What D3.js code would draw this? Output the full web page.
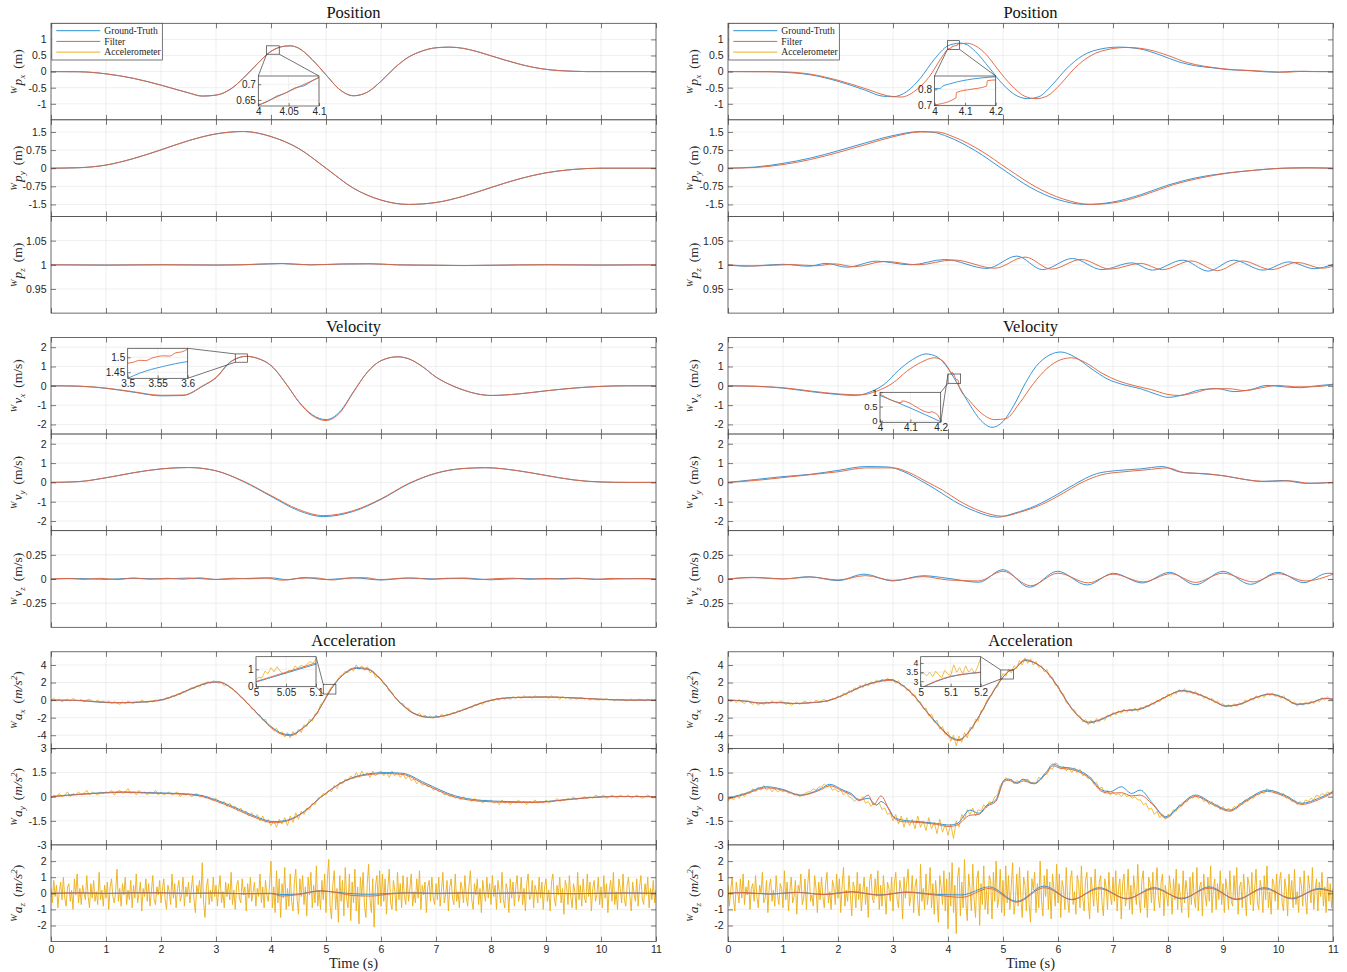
<!DOCTYPE html>
<html>
<head>
<meta charset="utf-8">
<script src="https://cdn.jsdelivr.net/npm/d3@7"></script>
<style>
  body { margin: 0; background: #fff; }
  svg { display: block; }
</style>
</head>
<body>
<svg id="chart" width="1347" height="972"></svg>
<script>
// ---------------------------------------------------------------------------
// Trajectory data: [time (s), value] knots for ground truth and filter output.
// Accelerometer samples are evenly spaced over 0..11 s, stored in 0.1 m/s^2.
// ---------------------------------------------------------------------------
const timeTicks = [0,1,2,3,4,5,6,7,8,9,10,11];
const groupTitles = ['Position', 'Velocity', 'Acceleration'];
const legendLabels = ['Ground-Truth', 'Filter', 'Accelerometer'];

// ----- left run -----
const gtPxL = [[0,0],[0.5,-0.005],[1,-0.07],[1.5,-0.21],[2,-0.42],[2.5,-0.66],[2.75,-0.76],[3,-0.73],[3.25,-0.56],[3.5,-0.2],[3.75,0.24],[4,0.63],[4.25,0.79],[4.35,0.8],[4.5,0.73],[4.75,0.37],[5,-0.1],[5.25,-0.56],[5.5,-0.75],[5.75,-0.64],[6,-0.3],[6.25,0.12],[6.5,0.45],[6.75,0.64],[7,0.74],[7.25,0.76],[7.5,0.72],[7.75,0.62],[8,0.49],[8.25,0.36],[8.5,0.24],[8.75,0.14],[9,0.07],[9.25,0.03],[9.5,0.01],[9.75,0],[11,0]];
const fiPxL = [[0,0],[0.5,-0.005],[1,-0.07],[1.5,-0.21],[2,-0.42],[2.5,-0.66],[2.75,-0.76],[3,-0.73],[3.25,-0.56],[3.5,-0.2],[3.75,0.24],[4,0.63],[4.25,0.79],[4.35,0.8],[4.5,0.73],[4.75,0.37],[5,-0.1],[5.25,-0.56],[5.5,-0.75],[5.75,-0.64],[6,-0.3],[6.25,0.12],[6.5,0.45],[6.75,0.64],[7,0.74],[7.25,0.76],[7.5,0.72],[7.75,0.62],[8,0.49],[8.25,0.36],[8.5,0.24],[8.75,0.14],[9,0.07],[9.25,0.03],[9.5,0.01],[9.75,0],[11,0]];
const gtPyL = [[0,0],[0.5,0.02],[1,0.13],[1.5,0.4],[2,0.76],[2.5,1.14],[3,1.42],[3.5,1.52],[4,1.31],[4.5,0.82],[5,0],[5.5,-0.83],[6,-1.32],[6.5,-1.5],[7,-1.42],[7.5,-1.16],[8,-0.8],[8.5,-0.45],[9,-0.19],[9.5,-0.05],[10,0],[11,0]];
const fiPyL = [[0,0],[0.5,0.02],[1,0.13],[1.5,0.4],[2,0.76],[2.5,1.14],[3,1.42],[3.5,1.52],[4,1.31],[4.5,0.82],[5,0],[5.5,-0.83],[6,-1.32],[6.5,-1.5],[7,-1.42],[7.5,-1.16],[8,-0.8],[8.5,-0.45],[9,-0.19],[9.5,-0.05],[10,0],[11,0]];
const gtPzL = [[0,1],[1,0.9995],[2,1],[3,0.9995],[3.5,1],[4.2,1.0025],[4.7,1],[5.3,1.0015],[5.8,1.002],[6.3,1],[7,0.999],[7.5,0.9985],[8,0.999],[9,1],[10,0.9995],[11,1]];
const fiPzL = [[0,1],[1,0.9993],[2,1.0002],[3,0.9994],[3.5,1.0003],[4.2,1.0028],[4.7,0.9998],[5.3,1.0018],[5.8,1.0022],[6.3,0.9998],[7,0.9992],[7.5,0.9984],[8,0.9991],[9,1.0002],[10,0.9994],[11,1]];
const gtVxL = [[0,0],[0.5,-0.02],[1,-0.13],[1.5,-0.33],[2,-0.52],[2.4,-0.5],[2.77,0],[3,0.41],[3.25,1.2],[3.55,1.52],[3.75,1.42],[4,1.05],[4.3,0],[4.5,-0.8],[4.75,-1.5],[5,-1.75],[5.25,-1.35],[5.5,-0.3],[5.75,0.7],[6,1.3],[6.3,1.5],[6.5,1.4],[6.75,1],[7,0.45],[7.3,0],[7.5,-0.22],[7.75,-0.42],[8,-0.5],[8.5,-0.42],[9,-0.26],[9.5,-0.12],[10,-0.03],[10.5,0],[11,0]];
const fiVxL = [[0,0],[0.5,-0.02],[1,-0.12],[1.5,-0.31],[2,-0.49],[2.4,-0.48],[2.77,0.02],[3,0.43],[3.25,1.22],[3.55,1.53],[3.75,1.43],[4,1.05],[4.3,0],[4.5,-0.82],[4.75,-1.54],[5,-1.8],[5.25,-1.4],[5.5,-0.33],[5.75,0.7],[6,1.3],[6.3,1.5],[6.5,1.4],[6.75,1],[7,0.45],[7.3,0],[7.5,-0.22],[7.75,-0.42],[8,-0.5],[8.5,-0.42],[9,-0.26],[9.5,-0.12],[10,-0.03],[10.5,0],[11,0]];
const gtVyL = [[0,0],[0.5,0.04],[1,0.24],[1.5,0.5],[2,0.7],[2.5,0.77],[3,0.6],[3.5,0.04],[4,-0.72],[4.5,-1.46],[4.95,-1.77],[5.5,-1.5],[6,-0.88],[6.5,-0.08],[7,0.47],[7.5,0.72],[7.9,0.76],[8.5,0.6],[9,0.36],[9.5,0.13],[10,0.02],[10.5,0],[11,0]];
const fiVyL = [[0,0],[0.5,0.04],[1,0.24],[1.5,0.5],[2,0.7],[2.5,0.77],[3,0.6],[3.5,0.06],[4,-0.68],[4.5,-1.4],[4.95,-1.72],[5.5,-1.46],[6,-0.85],[6.5,-0.06],[7,0.48],[7.5,0.72],[7.9,0.76],[8.5,0.6],[9,0.36],[9.5,0.13],[10,0.02],[10.5,0],[11,0]];
const gtVzL = [[0,0],[0.5,0.005],[1,-0.004],[1.5,0.008],[2,0],[2.5,0.01],[3,-0.005],[3.5,0.005],[4,0.012],[4.3,-0.008],[4.6,0.015],[5,-0.006],[5.5,0.012],[6,-0.01],[6.5,0.01],[7,0],[7.5,0.01],[8,-0.008],[8.5,0.005],[9,0],[9.5,0.008],[10,-0.004],[10.5,0.004],[11,0]];
const fiVzL = [[0,0],[0.3,0.006],[0.6,-0.004],[0.9,0.007],[1.2,-0.006],[1.5,0.01],[1.8,-0.003],[2.1,0.008],[2.4,-0.002],[2.7,0.012],[3,-0.006],[3.3,0.008],[3.6,0.002],[3.9,0.01],[4.2,-0.012],[4.5,0.006],[4.8,0.012],[5.1,-0.01],[5.4,0.008],[5.7,0.014],[6,-0.008],[6.3,0.006],[6.6,0.01],[6.9,-0.004],[7.2,0.008],[7.5,0.006],[7.8,-0.006],[8.1,0.004],[8.4,0.008],[8.7,-0.004],[9,0.006],[9.3,-0.002],[9.6,0.008],[9.9,-0.004],[10.2,0.006],[10.5,0.002],[10.8,0.005],[11,0]];
const gtAxL = [[0,0],[0.5,-0.05],[0.8,-0.2],[1.2,-0.32],[1.6,-0.25],[2,0],[2.3,0.6],[2.6,1.4],[2.9,2],[3.05,2.05],[3.25,1.5],[3.5,0.1],[3.75,-1.5],[4,-3],[4.2,-3.8],[4.35,-3.95],[4.55,-3.3],[4.8,-1.8],[5,0.27],[5.1,1.3],[5.3,2.8],[5.55,3.6],[5.75,3.5],[6,2.3],[6.3,0],[6.6,-1.5],[6.9,-1.95],[7.2,-1.7],[7.5,-1.1],[7.8,-0.4],[8.1,0.1],[8.5,0.3],[9,0.35],[9.5,0.25],[10,0.1],[10.5,0],[11,0]];
const fiAxL = [[0,0],[0.5,-0.03],[0.8,-0.17],[1.2,-0.28],[1.6,-0.22],[2,0.03],[2.3,0.65],[2.6,1.45],[2.9,2.05],[3.05,2.08],[3.25,1.52],[3.5,0.1],[3.75,-1.55],[4,-3.1],[4.2,-3.9],[4.35,-4.05],[4.55,-3.35],[4.8,-1.8],[5,0.3],[5.1,1.37],[5.3,2.85],[5.55,3.7],[5.75,3.6],[6,2.35],[6.3,0],[6.6,-1.55],[6.9,-2],[7.2,-1.72],[7.5,-1.1],[7.8,-0.38],[8.1,0.12],[8.5,0.32],[9,0.36],[9.5,0.26],[10,0.1],[10.5,0],[11,0]];
const gtAyL = [[0,0],[0.3,0.1],[0.8,0.22],[1.3,0.3],[1.8,0.25],[2.3,0.2],[2.7,0.1],[3,-0.2],[3.3,-0.6],[3.7,-1.2],[4.05,-1.55],[4.3,-1.45],[4.6,-0.92],[4.9,-0.05],[5.35,1],[5.7,1.38],[6.1,1.5],[6.4,1.45],[6.8,0.85],[7.35,0.05],[7.8,-0.22],[8.3,-0.3],[8.8,-0.33],[9.3,-0.2],[9.8,-0.05],[10.3,0.02],[11,0]];
const fiAyL = [[0,0],[0.3,0.08],[0.8,0.2],[1.3,0.27],[1.8,0.22],[2.3,0.17],[2.7,0.05],[3,-0.27],[3.3,-0.68],[3.7,-1.28],[4.05,-1.62],[4.3,-1.5],[4.6,-0.95],[4.9,-0.05],[5.35,0.98],[5.7,1.33],[6.1,1.44],[6.4,1.38],[6.8,0.76],[7.35,-0.03],[7.8,-0.28],[8.3,-0.35],[8.8,-0.36],[9.3,-0.22],[9.8,-0.06],[10.3,0.01],[11,0]];
const gtAzL = [[0,0],[0.5,0.02],[1,0],[1.5,0.03],[2,0.02],[2.5,0],[3,0.02],[3.5,-0.02],[4,0],[4.2,-0.08],[4.5,-0.04],[4.9,0.14],[5.2,0.06],[5.5,-0.03],[5.8,-0.06],[6.2,0],[6.5,0.03],[7,0],[7.5,0.02],[8,0],[8.5,0.02],[9,0],[9.5,-0.02],[10,0],[10.5,0.02],[11,0]];
const fiAzL = [[0,0],[0.5,0.03],[1,-0.01],[1.5,0.02],[2,0.03],[2.5,-0.01],[3,0.02],[3.5,-0.03],[4,-0.02],[4.2,-0.17],[4.5,-0.08],[4.9,0.16],[5.2,0.04],[5.5,-0.14],[5.8,-0.17],[6.2,-0.03],[6.5,0.02],[7,-0.01],[7.5,0.02],[8,-0.01],[8.5,0.02],[9,-0.01],[9.5,-0.02],[10,0],[10.5,0.01],[11,0]];

const accAxL = [0,2,-1,1,-2,0,1,-1,2,0,-1,1,-2,0,1,-1,-2,0,-3,-1,
  -3,-1,-4,-2,-3,-5,-2,-4,-1,-3,-4,-2,-3,0,-2,-3,-1,-2,0,-1,
  1,0,3,2,5,4,7,6,10,9,12,14,13,16,15,18,17,21,19,22,
  21,19,20,16,18,14,13,9,7,3,2,-3,-5,-10,-11,-16,-17,-23,-22,-29,
  -31,-35,-32,-38,-36,-42,-37,-43,-36,-40,-33,-37,-28,-30,-22,-24,-16,-15,-5,-3,
  4,10,15,18,22,27,29,33,31,36,33,40,35,39,34,38,31,33,26,27,
  24,18,17,10,9,3,1,-4,-4,-9,-9,-14,-15,-17,-15,-19,-17,-20,-18,-21,
  -17,-20,-16,-19,-16,-17,-14,-15,-12,-13,-10,-11,-8,-9,-5,-6,-3,-5,-1,-2,
  0,-1,2,0,3,1,3,1,4,2,4,2,5,3,4,2,5,3,4,3,
  4,2,5,3,4,1,4,2,3,1,3,1,2,3,1,2,0,2,1,0,
  1,0,2,0,1,-1,1,0,1,-1,0,1,-1,0,1,0,-1,1,0,0,1];
const accAyL = [-1,1,0,2,0,1,3,0,2,1,3,1,2,4,1,3,2,1,3,2,
  3,2,4,1,3,4,2,3,5,2,3,1,4,2,3,1,3,2,4,1,
  3,1,2,3,1,2,3,0,2,1,2,0,1,2,0,1,-1,0,-2,-2,
  -1,-3,-4,-3,-6,-4,-7,-6,-9,-7,-10,-9,-12,-10,-13,-11,-15,-12,-16,-14,
  -18,-15,-19,-14,-17,-13,-18,-12,-16,-10,-14,-9,-11,-7,-8,-4,-5,-1,0,2,
  1,4,3,7,5,9,8,11,10,13,11,15,12,16,13,15,12,16,13,15,
  16,13,15,12,16,13,15,12,14,11,13,10,11,8,10,7,8,6,7,4,
  5,3,4,1,2,0,1,-1,0,-2,0,-2,-1,-3,-1,-3,-2,-4,-2,-3,
  -2,-4,-3,-5,-2,-4,-3,-5,-3,-4,-2,-4,-3,-5,-3,-4,-2,-4,-3,-4,
  -2,-4,-3,-3,-1,-3,-2,-2,-1,-2,0,-2,-1,-1,0,-1,0,-1,1,0,
  0,1,-1,0,1,0,-1,1,0,0,1,-1,0,1,0,-1,0,1,0,-1,0];
const accAzL = [3,-6,8,-2,5,-9,1,7,-4,10,-3,-8,4,6,-5,2,-10,9,-1,12,-6,3,-7,5,0,-4,11,-2,-9,6,-3,8,-5,1,-7,13,-4,2,-8,5,
  -3,7,-10,4,9,-2,-6,1,15,-5,3,-8,6,-1,10,-7,2,-4,8,-9,5,-3,12,-6,0,7,-11,3,-2,9,-5,6,-8,1,11,-4,-7,4,-1,8,
  -6,2,9,-4,-10,5,1,-7,12,-3,6,-9,3,8,-5,-1,10,-8,4,-2,7,-6,2,11,-4,-12,5,0,8,-3,19,-6,-15,4,9,-7,2,-5,10,-2,
  5,-8,3,11,-6,1,-9,7,-2,6,-4,13,-7,2,-10,5,8,-3,-6,9,-1,4,-11,6,-3,10,-5,1,7,-8,3,-2,12,-6,4,-9,8,-1,-5,6,
  20,-9,4,-12,14,-6,9,-15,6,-3,16,-10,3,-8,12,-5,-11,7,15,-4,-13,9,-2,11,-7,4,-14,10,-1,13,-9,5,-6,17,-8,2,-10,8,-4,12,
  -12,9,21,-8,-16,6,14,-10,3,-18,11,-5,8,-14,16,-3,-9,12,-17,7,-6,15,-11,4,-19,10,-2,13,-8,-15,6,18,-4,-12,9,-21,5,11,-7,14,
  -8,12,-5,9,-13,4,15,-6,-10,8,2,-11,13,-4,6,-9,11,-2,-7,10,-5,3,12,-8,1,-6,9,-3,14,-10,5,-1,7,-12,4,8,-5,10,-3,-7,
  6,-4,10,-8,2,13,-6,-1,8,-11,4,9,-3,-7,12,-5,1,-9,7,3,-6,11,-2,-8,5,14,-4,-10,6,-1,9,-7,3,-12,8,0,-5,10,-3,6,
  -7,11,-2,5,-10,8,1,-6,13,-4,-9,6,2,-12,9,-3,7,-8,4,11,-5,-1,10,-7,3,-11,6,12,-4,-2,8,-9,5,1,-6,10,-3,7,-10,4,
  9,-5,2,-11,7,12,-3,-8,5,-1,10,-6,3,-13,8,4,-7,11,-2,-9,6,1,-10,13,-4,5,-8,9,-3,-6,12,-2,7,-11,3,8,-5,-1,10,-7,
  4,-9,11,-3,6,-12,2,8,-5,13,-7,1,-10,9,3,-6,12,-4,-8,5,10,-2,-11,7,0,-5,9,-8,4,11,-3,-7,6,-1,10,-9,3,-4,8,-6,2];

// zoomed windows, left run
const zoomPxGtL = [[4,0.634],[4.015,0.645],[4.03,0.662],[4.045,0.672],[4.06,0.688],[4.075,0.695],[4.09,0.712],[4.1,0.722]];
const zoomPxFiL = [[4,0.633],[4.05,0.677],[4.1,0.721]];
const zoomVxGtL = [[3.5,1.43],[3.52,1.447],[3.54,1.46],[3.56,1.47],[3.58,1.479],[3.6,1.486]];
const zoomVxFiL = [[3.5,1.48],[3.51,1.484],[3.52,1.49],[3.53,1.489],[3.54,1.497],[3.56,1.505],[3.57,1.504],[3.58,1.515],[3.59,1.518],[3.6,1.527]];
const zoomAxGtL = [[5,0.27],[5.1,1.3]];
const zoomAxFiL = [[5,0.3],[5.1,1.37]];
const zoomAxAccL = [[5,0.4],[5.005,0.55],[5.01,0.5],[5.015,0.9],[5.02,0.75],[5.025,1.1],[5.03,0.85],[5.035,1.15],[5.04,0.9],[5.045,0.75],[5.05,0.8],[5.055,0.95],[5.06,0.85],[5.065,1.2],[5.07,1.05],[5.075,1.25],[5.08,1.15],[5.085,1.3],[5.09,1.45],[5.095,1.35],[5.1,1.6]];

// ----- right run -----
const gtPxR = [[0,0],[0.75,0],[1,-0.02],[1.5,-0.1],[2,-0.3],[2.5,-0.58],[2.8,-0.76],[3,-0.78],[3.25,-0.62],[3.5,-0.2],[3.75,0.38],[4,0.805],[4.1,0.858],[4.22,0.885],[4.35,0.83],[4.5,0.62],[4.75,0.12],[5,-0.4],[5.25,-0.75],[5.45,-0.84],[5.65,-0.78],[5.9,-0.4],[6.15,0.08],[6.45,0.5],[6.8,0.71],[7.1,0.76],[7.5,0.7],[7.85,0.52],[8.2,0.3],[8.5,0.18],[8.8,0.12],[9.1,0.06],[9.4,0.04],[9.7,0],[10,-0.02],[10.3,0.01],[10.6,0],[11,0]];
const fiPxR = [[0,0],[1,-0.01],[1.5,-0.08],[2,-0.27],[2.5,-0.53],[2.9,-0.75],[3.15,-0.79],[3.4,-0.6],[3.65,-0.18],[3.9,0.48],[4,0.7],[4.07,0.745],[4.072,0.78],[4.17,0.82],[4.173,0.855],[4.35,0.88],[4.5,0.8],[4.7,0.52],[4.9,0.08],[5.15,-0.42],[5.4,-0.77],[5.6,-0.84],[5.8,-0.76],[6.05,-0.38],[6.3,0.1],[6.6,0.5],[6.95,0.7],[7.25,0.75],[7.65,0.68],[8,0.5],[8.35,0.28],[8.65,0.17],[8.95,0.1],[9.25,0.05],[9.55,0.03],[9.85,0],[10.15,-0.02],[10.45,0.01],[10.75,0],[11,0]];
const gtPyR = [[0,0],[0.5,0.05],[1,0.2],[1.5,0.42],[2,0.72],[2.5,1.05],[3,1.35],[3.5,1.52],[3.75,1.48],[4,1.3],[4.5,0.72],[5,-0.05],[5.5,-0.8],[6,-1.3],[6.5,-1.5],[7,-1.4],[7.5,-1.1],[8,-0.7],[8.5,-0.4],[9,-0.22],[9.5,-0.1],[10,-0.01],[10.5,0.02],[11,0]];
const fiPyR = [[0,0],[0.5,0.03],[1,0.15],[1.5,0.36],[2,0.65],[2.5,0.98],[3,1.3],[3.5,1.5],[3.8,1.5],[4.1,1.3],[4.6,0.72],[5.1,-0.05],[5.6,-0.78],[6.1,-1.28],[6.6,-1.5],[7.1,-1.4],[7.6,-1.08],[8.1,-0.68],[8.6,-0.4],[9.1,-0.2],[9.6,-0.08],[10.1,0],[10.6,0.01],[11,0]];
const gtPzR = [[0,1],[0.31,0.997],[1,1.001],[1.47,0.997],[1.78,1.003],[2.16,0.995],[2.7,1.0075],[3.32,1],[3.94,1.011],[4.71,0.9925],[5.25,1.018],[5.72,0.99],[6.26,1.013],[6.8,0.99],[7.34,1.004],[7.72,0.989],[8.27,1.0096],[8.73,0.987],[9.19,1.0096],[9.73,0.989],[10.2,1.006],[10.66,0.992],[11,1.001]];
const fiPzR = [[0,1],[0.45,0.9975],[1.15,1.0005],[1.6,0.998],[1.93,1.002],[2.3,0.996],[2.85,1.007],[3.45,1],[4.1,1.01],[4.85,0.993],[5.4,1.016],[5.88,0.991],[6.42,1.011],[6.95,0.991],[7.5,1.003],[7.9,0.99],[8.42,1.008],[8.9,0.988],[9.35,1.008],[9.88,0.99],[10.35,1.005],[10.8,0.993],[11,0.997]];
const gtVxR = [[0,0],[0.5,-0.02],[1,-0.12],[1.5,-0.3],[2,-0.45],[2.3,-0.5],[2.6,-0.3],[2.85,0.1],[3.1,0.8],[3.35,1.35],[3.6,1.65],[3.8,1.5],[4,0.9],[4.1,0.45],[4.2,-0.03],[4.4,-1],[4.6,-1.8],[4.8,-2.15],[5,-1.85],[5.2,-1],[5.4,0.1],[5.6,1],[5.85,1.6],[6.05,1.75],[6.3,1.5],[6.6,0.9],[6.9,0.35],[7.2,0.05],[7.5,-0.15],[7.8,-0.45],[8,-0.6],[8.3,-0.45],[8.6,-0.2],[8.9,-0.15],[9.2,-0.3],[9.5,-0.2],[9.8,0.02],[10.1,-0.05],[10.4,-0.1],[10.7,0],[11,0.08]];
const fiVxR = [[0,0],[1,-0.1],[1.5,-0.27],[2,-0.42],[2.4,-0.47],[2.7,-0.28],[3,0.15],[3.25,0.75],[3.5,1.2],[3.75,1.45],[3.9,1.3],[4,0.94],[4.071,0.64],[4.072,0.7],[4.165,0.29],[4.167,0.32],[4.19,0.21],[4.2,-0.03],[4.4,-0.8],[4.6,-1.4],[4.85,-1.75],[5.05,-1.7],[5.3,-0.9],[5.55,0.1],[5.8,0.9],[6.05,1.35],[6.25,1.45],[6.5,1.2],[6.8,0.65],[7.1,0.25],[7.4,0],[7.7,-0.2],[8,-0.45],[8.2,-0.5],[8.5,-0.35],[8.8,-0.15],[9.1,-0.15],[9.4,-0.25],[9.7,-0.1],[10,0.02],[10.3,-0.05],[10.6,-0.05],[11,0.05]];
const gtVyR = [[0,0],[0.5,0.15],[1,0.3],[1.5,0.42],[2,0.62],[2.5,0.82],[2.9,0.8],[3.2,0.55],[3.5,0.1],[3.8,-0.4],[4.1,-0.95],[4.5,-1.5],[4.9,-1.8],[5.2,-1.6],[5.6,-1.2],[6,-0.6],[6.3,-0.1],[6.7,0.45],[7.1,0.62],[7.5,0.7],[7.9,0.82],[8.2,0.55],[8.6,0.45],[9,0.35],[9.3,0.2],[9.7,0.05],[10.1,0.1],[10.5,-0.05],[11,0]];
const fiVyR = [[0,0],[0.5,0.1],[1,0.25],[1.5,0.4],[2,0.55],[2.5,0.75],[3,0.75],[3.3,0.5],[3.6,0.05],[3.9,-0.4],[4.2,-0.95],[4.6,-1.5],[5,-1.75],[5.3,-1.55],[5.7,-1.15],[6.1,-0.55],[6.4,-0.05],[6.8,0.4],[7.2,0.55],[7.6,0.65],[8,0.75],[8.3,0.5],[8.7,0.45],[9.1,0.3],[9.4,0.15],[9.8,0.05],[10.2,0.08],[10.6,-0.05],[11,0]];
const gtVzR = [[0,0],[0.46,0.017],[1,0],[1.47,0.024],[2,-0.017],[2.47,0.05],[3,-0.02],[3.55,0.034],[4,0.007],[4.56,-0.034],[5,0.097],[5.48,-0.086],[5.99,0.08],[6.53,-0.062],[7.01,0.059],[7.53,-0.041],[8.03,0.069],[8.5,-0.059],[9,0.079],[9.5,-0.055],[10,0.069],[10.47,-0.038],[10.9,0.059],[11,0.058]];
const fiVzR = [[0,0],[0.46,0.015],[1,0.002],[1.5,0.02],[2,-0.01],[2.5,0.035],[3,-0.015],[3.55,0.025],[4,-0.01],[4.55,-0.02],[5,0.08],[5.5,-0.07],[6,0.06],[6.55,-0.04],[7,0.05],[7.55,-0.03],[8.05,0.055],[8.5,-0.035],[9,0.06],[9.55,-0.03],[10,0.055],[10.5,-0.02],[11,0.05]];
const gtAxR = [[0,0],[0.3,-0.1],[0.6,-0.35],[0.9,-0.25],[1.2,-0.4],[1.5,-0.3],[1.8,-0.1],[2.1,0.6],[2.4,1.5],[2.7,2.1],[2.95,2.35],[3.15,1.8],[3.4,0.4],[3.6,-1.2],[3.85,-3],[4.05,-4.2],[4.2,-4.5],[4.35,-3.8],[4.55,-2],[4.75,0.2],[5,2.6],[5.1,3.25],[5.2,3.5],[5.4,4.5],[5.55,4.3],[5.8,3.2],[6,1.5],[6.2,-0.5],[6.4,-2],[6.55,-2.6],[6.75,-2.3],[7,-1.6],[7.2,-1.2],[7.45,-1.1],[7.7,-0.5],[8,0.5],[8.25,1.1],[8.5,0.8],[8.8,0],[9.05,-0.7],[9.3,-0.5],[9.6,0.3],[9.85,0.7],[10.1,0.3],[10.35,-0.5],[10.6,-0.3],[10.85,0.2],[11,0.1]];
const fiAxR = [[0,0],[0.3,-0.12],[0.6,-0.33],[0.9,-0.28],[1.2,-0.38],[1.5,-0.3],[1.8,-0.08],[2.1,0.58],[2.4,1.45],[2.7,2.05],[2.95,2.25],[3.15,1.75],[3.4,0.35],[3.6,-1.25],[3.85,-3.1],[4.05,-4.3],[4.2,-4.6],[4.35,-3.85],[4.55,-2],[4.75,0.25],[5,2.62],[5.1,3.27],[5.2,3.48],[5.4,4.6],[5.55,4.35],[5.8,3.15],[6,1.45],[6.2,-0.55],[6.4,-2],[6.55,-2.5],[6.75,-2.25],[7,-1.55],[7.2,-1.2],[7.45,-1.05],[7.7,-0.45],[8,0.5],[8.25,1.05],[8.5,0.75],[8.8,0],[9.05,-0.65],[9.3,-0.45],[9.6,0.3],[9.85,0.65],[10.1,0.25],[10.35,-0.45],[10.6,-0.3],[10.85,0.2],[11,0.1]];
const gtAyR = [[0,-0.1],[0.31,0.2],[0.7,0.62],[1,0.45],[1.31,0.1],[1.7,0.52],[1.85,0.77],[2.09,0.41],[2.24,0.2],[2.39,-0.2],[2.55,-0.1],[2.7,-0.52],[2.78,-0.3],[2.94,-0.83],[3.01,-1.24],[3.17,-1.45],[3.48,-1.55],[3.79,-1.66],[4.02,-1.76],[4.17,-1.66],[4.4,-0.83],[4.56,-1.03],[4.71,-0.52],[4.87,-0.2],[5.02,1.03],[5.1,1.1],[5.25,0.87],[5.37,1.08],[5.56,0.83],[5.79,1.55],[5.91,2.03],[6.03,1.86],[6.26,1.76],[6.57,1.24],[6.8,0.41],[6.95,0.31],[7.15,0.62],[7.34,0.2],[7.49,0.41],[7.72,-0.41],[7.96,-1.24],[8.19,-0.62],[8.5,0.1],[8.81,-0.41],[9.12,-0.83],[9.42,-0.2],[9.81,0.41],[10.12,0.1],[10.43,-0.41],[10.74,-0.1],[11,0.31]];
const fiAyR = [[0,-0.15],[0.31,0.15],[0.7,0.55],[1,0.4],[1.31,0.08],[1.7,0.45],[1.85,0.68],[2.09,0.35],[2.24,0.12],[2.39,-0.25],[2.55,0.1],[2.65,-0.5],[2.78,0.05],[2.94,-0.9],[3.01,-1.3],[3.17,-1.55],[3.48,-1.6],[3.79,-1.72],[4.02,-1.85],[4.17,-1.75],[4.4,-1.15],[4.56,-1.1],[4.71,-0.6],[4.87,-0.3],[5.02,0.95],[5.1,1.02],[5.25,0.82],[5.37,0.98],[5.56,0.8],[5.79,1.45],[5.91,1.92],[6.03,1.78],[6.26,1.68],[6.57,1.15],[6.8,0.32],[6.95,0.22],[7.15,0.25],[7.34,0.05],[7.49,0.1],[7.72,-0.48],[7.96,-1.32],[8.19,-0.7],[8.5,0.02],[8.81,-0.48],[9.12,-0.9],[9.42,-0.28],[9.81,0.33],[10.12,0.02],[10.43,-0.48],[10.74,-0.18],[11,0.25]];
const gtAzR = [[0,0],[0.25,0.03],[0.75,-0.05],[1.25,0.06],[1.75,-0.06],[2.25,0.1],[2.75,-0.1],[3.25,0.08],[3.75,-0.06],[4.25,-0.1],[4.75,0.4],[5.25,-0.5],[5.75,0.45],[6.25,-0.4],[6.75,0.35],[7.25,-0.35],[7.75,0.35],[8.25,-0.35],[8.75,0.4],[9.25,-0.4],[9.75,0.35],[10.25,-0.35],[10.75,0.3],[11,0.1]];
const fiAzR = [[0,0],[0.25,0.05],[0.75,-0.04],[1.25,0.05],[1.75,-0.08],[2.25,0.08],[2.75,-0.12],[3.25,0.06],[3.75,-0.1],[4.25,-0.25],[4.75,0.3],[5.25,-0.55],[5.75,0.35],[6.25,-0.38],[6.75,0.28],[7.25,-0.32],[7.75,0.28],[8.25,-0.3],[8.75,0.32],[9.25,-0.35],[9.75,0.28],[10.25,-0.3],[10.75,0.25],[11,0.08]];

const accAxR = [1,-2,0,-3,1,-2,-4,0,-3,-5,-2,-6,-3,-5,-2,-4,-1,-3,-4,-1,
  -2,-5,-3,-6,-4,-2,-5,-3,-1,-4,-2,-3,0,-2,-1,1,-2,0,2,1,
  5,3,8,6,11,9,14,12,17,14,19,16,21,18,23,20,24,21,25,22,
  24,19,22,16,17,11,12,5,6,-2,-2,-10,-9,-18,-16,-25,-23,-33,-30,-39,
  -36,-47,-40,-52,-41,-48,-37,-43,-31,-33,-22,-24,-12,-11,-1,4,6,14,15,24,
  30,27,35,31,39,36,45,40,48,42,47,40,44,37,39,32,35,26,26,17,
  17,8,7,-3,-4,-11,-11,-18,-18,-25,-22,-28,-23,-27,-21,-25,-20,-23,-17,-19,
  -14,-17,-12,-15,-10,-14,-10,-13,-9,-13,-8,-10,-6,-8,-3,-5,0,-2,3,2,
  7,4,9,7,12,9,13,8,11,7,10,5,7,2,4,0,2,-3,-1,-5,
  -4,-8,-5,-8,-4,-7,-3,-5,0,-2,2,0,5,2,6,3,8,5,8,4,
  6,2,5,0,1,-4,-2,-7,-3,-6,-2,-5,-1,-4,0,-2,3,0,4,0,1];
const accAyR = [-3,0,-2,1,-1,2,0,3,2,5,3,6,4,7,4,6,3,5,3,4,
  3,4,2,3,1,2,0,1,2,3,3,5,4,6,6,8,6,7,4,5,
  3,4,1,3,0,-1,-3,-1,-2,0,-4,-3,-6,-4,-5,-4,-8,-7,-11,-10,
  -15,-11,-17,-12,-19,-13,-18,-14,-20,-12,-19,-15,-21,-13,-20,-16,-23,-14,-22,-17,
  -24,-17,-26,-15,-19,-11,-14,-8,-11,-7,-12,-8,-9,-5,-7,-3,-4,0,1,7,
  9,12,10,11,8,10,9,11,10,11,8,9,8,12,11,14,14,18,17,21,
  20,17,19,16,18,15,18,15,17,13,14,11,12,8,9,5,6,2,4,1,
  3,1,2,0,2,0,1,-1,0,-2,-2,-5,-4,-8,-7,-11,-9,-13,-11,-14,
  -11,-12,-8,-9,-5,-6,-3,-3,0,-1,1,-1,0,-3,-2,-5,-3,-6,-5,-8,
  -6,-9,-7,-9,-6,-7,-4,-5,-2,-3,0,-1,2,1,3,2,5,3,4,2,
  3,1,2,-1,0,-3,-2,-5,-3,-5,-2,-3,-1,-2,1,0,2,1,3,2,4];
const accAzR = [5,-8,2,10,-4,-11,7,1,-6,9,-3,12,-7,4,-1,8,-10,3,6,-5,11,-2,-9,5,0,13,-6,-3,8,-12,4,9,-5,2,-8,11,-1,-7,6,3,
  -9,14,-4,7,-11,2,10,-6,-2,8,-13,5,1,12,-7,-3,9,-10,6,15,-5,-1,-8,11,3,-12,7,-4,10,-2,-9,6,13,-6,1,-10,8,4,-7,12,
  -3,9,-12,5,16,-8,2,-5,11,-1,-14,7,3,-9,13,-4,6,-11,1,10,-7,4,-15,8,12,-3,-6,9,-2,14,-10,5,-8,11,0,-13,7,3,-5,10,
  -11,6,13,-4,-9,8,2,-16,10,-3,7,15,-8,-2,11,-12,4,9,-6,-14,18,-5,3,-10,12,-7,1,16,-9,6,-13,8,-3,-18,11,4,-7,14,-11,9,
  -22,13,-8,19,-12,5,-25,10,16,-14,7,-9,21,-6,-17,12,3,-11,18,-4,-15,9,14,-20,6,-7,17,-10,2,-13,11,8,-16,13,-5,20,-9,-3,15,-12,
  8,-14,17,-6,11,-10,4,19,-13,-5,12,-8,16,-3,-15,10,5,-11,14,-7,-18,9,2,13,-12,6,-9,20,-4,-14,11,-2,15,-10,7,-16,12,3,-8,18,
  -6,12,-15,8,3,-10,16,-4,-12,9,14,-7,1,-13,11,6,-9,17,-3,-11,8,13,-5,-16,10,2,-8,15,-2,-12,7,11,-6,-14,9,4,-10,13,-1,-7,
  10,-5,14,-11,3,9,-16,6,12,-8,-2,15,-10,5,-13,11,1,-7,18,-4,-12,8,14,-9,3,-15,10,6,-6,13,-11,2,16,-3,-9,7,12,-14,5,-1,
  -8,11,3,-13,9,-4,15,-10,6,-2,-12,14,-6,8,1,-15,10,-7,13,-3,-9,16,-11,4,7,-14,12,-1,-8,10,-5,17,-12,3,9,-10,6,-4,14,-7,
  6,-12,9,2,-10,14,-5,-8,11,-3,16,-13,4,7,-9,12,-1,-14,10,5,-7,13,-11,2,15,-6,-10,8,3,-12,11,-4,17,-9,1,-13,9,6,-5,12,
  -10,7,13,-6,-11,9,2,-14,12,-3,8,-9,15,-7,1,-12,10,5,-8,14,-4,-13,11,3,-6,16,-10,2,9,-11,7,-2,13,-8,4,-12,10,-5,6,-9,3];

// zoomed windows, right run
const zoomPxGtR = [[4,0.805],[4.02,0.806],[4.025,0.818],[4.05,0.835],[4.075,0.848],[4.1,0.858],[4.15,0.872],[4.2,0.88]];
const zoomPxFiR = [[4,0.7],[4.07,0.745],[4.072,0.78],[4.12,0.8],[4.17,0.82],[4.173,0.855],[4.2,0.86]];
const zoomVxGtR = [[4,0.89],[4.1,0.45],[4.2,-0.03]];
const zoomVxFiR = [[4,0.94],[4.071,0.64],[4.072,0.7],[4.165,0.29],[4.167,0.32],[4.19,0.21],[4.2,-0.03]];
const zoomAxGtR = [[5,2.6],[5.05,2.98],[5.1,3.25],[5.15,3.4],[5.2,3.5]];
const zoomAxFiR = [[5,2.62],[5.05,3.0],[5.1,3.27],[5.15,3.4],[5.2,3.48]];
const zoomAxAccR = [[5,3.4],[5.01,3.45],[5.02,3.3],[5.03,3.5],[5.04,3.25],[5.05,3.55],[5.06,3.35],[5.07,3.2],[5.08,3.6],[5.09,3.4],[5.1,3.3],[5.11,3.9],[5.12,3.5],[5.13,3.75],[5.14,3.4],[5.15,3.85],[5.16,3.5],[5.17,3.7],[5.18,3.45],[5.19,3.8],[5.2,4.3]];

// ---------------------------------------------------------------------------
// Layout and styling
// ---------------------------------------------------------------------------
const colors = { gt: '#2f8fd5', fi: '#e2653c', acc: '#EDB120' };
const sans = "'Liberation Sans', Arial, Helvetica, sans-serif";
const serif = "'Liberation Serif', 'Times New Roman', serif";
const ink = '#262626';
const gridColor = '#e4e4e4';
const plotW = 605, panelH = 96.6;
const groupTop = [23.3, 337.5, 651.8];

const specs = [
  { key: 'px', g: 0, r: 0, dom: [-1.5, 1.5], ticks: [-1, -0.5, 0, 0.5, 1], sym: 'p', sub: 'x', unit: 'm' },
  { key: 'py', g: 0, r: 1, dom: [-2, 2], ticks: [-1.5, -0.75, 0, 0.75, 1.5], sym: 'p', sub: 'y', unit: 'm' },
  { key: 'pz', g: 0, r: 2, dom: [0.9, 1.1], ticks: [0.95, 1, 1.05], sym: 'p', sub: 'z', unit: 'm' },
  { key: 'vx', g: 1, r: 0, dom: [-2.5, 2.5], ticks: [-2, -1, 0, 1, 2], sym: 'v', sub: 'x', unit: 'm/s' },
  { key: 'vy', g: 1, r: 1, dom: [-2.5, 2.5], ticks: [-2, -1, 0, 1, 2], sym: 'v', sub: 'y', unit: 'm/s' },
  { key: 'vz', g: 1, r: 2, dom: [-0.5, 0.5], ticks: [-0.25, 0, 0.25], sym: 'v', sub: 'z', unit: 'm/s' },
  { key: 'ax', g: 2, r: 0, dom: [-5.5, 5.5], ticks: [-4, -2, 0, 2, 4], sym: 'a', sub: 'x', unit: 'm/s', sq: true, accW: 0.85 },
  { key: 'ay', g: 2, r: 1, dom: [-3, 3], ticks: [-3, -1.5, 0, 1.5, 3], sym: 'a', sub: 'y', unit: 'm/s', sq: true, accW: 0.85 },
  { key: 'az', g: 2, r: 2, dom: [-3, 3], ticks: [-2, -1, 0, 1, 2], sym: 'a', sub: 'z', unit: 'm/s', sq: true, accW: 0.95 }
];

const columns = [
  {
    x0: 51, labelX: 22,
    series: {
      px: [gtPxL, fiPxL], py: [gtPyL, fiPyL], pz: [gtPzL, fiPzL],
      vx: [gtVxL, fiVxL], vy: [gtVyL, fiVyL], vz: [gtVzL, fiVzL],
      ax: [gtAxL, fiAxL], ay: [gtAyL, fiAyL], az: [gtAzL, fiAzL]
    },
    acc: { ax: accAxL, ay: accAyL, az: accAzL },
    insets: [
      { panel: 'px', box: [207.3, 52.7, 60.7, 30], xDom: [4, 4.1], yDom: [0.631, 0.726], xTicks: [4, 4.05, 4.1], yTicks: [0.65, 0.7],
        marker: [3.92, 4.15, 0.54, 0.8], links: [['bl', 'tl'], ['br', 'tr']], gt: zoomPxGtL, fi: zoomPxFiL, font: 10 },
      { panel: 'vx', box: [76.7, 10.8, 60, 30], xDom: [3.5, 3.6], yDom: [1.43, 1.53], xTicks: [3.5, 3.55, 3.6], yTicks: [1.45, 1.5],
        marker: [3.35, 3.57, 1.22, 1.65], links: [['tl', 'tr'], ['bl', 'br']], gt: zoomVxGtL, fi: zoomVxFiL, font: 10 },
      { panel: 'ax', box: [205, 4.9, 60, 30], xDom: [5, 5.1], yDom: [0, 1.73], xTicks: [5, 5.05, 5.1], yTicks: [0, 1],
        marker: [4.95, 5.18, 0.69, 1.8], links: [['tl', 'tr'], ['bl', 'br']], gt: zoomAxGtL, fi: zoomAxFiL, acc: zoomAxAccL, font: 10 }
    ]
  },
  {
    x0: 728, labelX: 698,
    series: {
      px: [gtPxR, fiPxR], py: [gtPyR, fiPyR], pz: [gtPzR, fiPzR],
      vx: [gtVxR, fiVxR], vy: [gtVyR, fiVyR], vz: [gtVzR, fiVzR],
      ax: [gtAxR, fiAxR], ay: [gtAyR, fiAyR], az: [gtAzR, fiAzR]
    },
    acc: { ax: accAxR, ay: accAyR, az: accAzR },
    insets: [
      { panel: 'px', box: [206.5, 52.7, 61.2, 29.7], xDom: [4, 4.2], yDom: [0.695, 0.885], xTicks: [4, 4.1, 4.2], yTicks: [0.7, 0.8],
        marker: [3.99, 4.21, 0.69, 0.96], links: [['bl', 'tl'], ['br', 'tr']], gt: zoomPxGtR, fi: zoomPxFiR, font: 10 },
      { panel: 'vx', box: [152, 54.8, 60.7, 30], xDom: [4, 4.2], yDom: [-0.05, 1], xTicks: [4, 4.1, 4.2], yTicks: [0, 0.5, 1],
        marker: [4.0, 4.23, 0.13, 0.61], links: [['bl', 'tr'], ['tl', 'br']], gt: zoomVxGtR, fi: zoomVxFiR, font: 9.5 },
      { panel: 'ax', box: [192.7, 4.9, 60, 30], xDom: [5, 5.2], yDom: [2.7, 4.35], xTicks: [5, 5.1, 5.2], yTicks: [3, 3.5, 4],
        marker: [4.96, 5.19, 2.4, 3.43], links: [['tl', 'tr'], ['bl', 'br']], gt: zoomAxGtR, fi: zoomAxFiR, acc: zoomAxAccR, font: 8.6 }
    ]
  }
];

// ---------------------------------------------------------------------------
// Drawing
// ---------------------------------------------------------------------------
const svg = d3.select('#chart');
let clipId = 0;

function smoothLine(x, y) {
  return d3.line().x(d => x(d[0])).y(d => y(d[1])).curve(d3.curveMonotoneX);
}
function rawLine(x, y) {
  return d3.line().x(d => x(d[0])).y(d => y(d[1]));
}
function evenSamples(arr) {
  const n = arr.length;
  return arr.map((v, i) => [11 * i / (n - 1), v / 10]);
}
function fmt(v) { return String(v); }

function styleAxis(g, size) {
  g.attr('font-family', sans).attr('font-size', size);
  g.select('.domain').remove();
  g.selectAll('.tick line').attr('stroke', ink).attr('stroke-width', 0.6);
  g.selectAll('.tick text').attr('fill', ink);
}

function yLabel(g, cx, cy, s) {
  const t = g.append('text')
    .attr('transform', `translate(${cx},${cy}) rotate(-90)`)
    .attr('text-anchor', 'middle')
    .attr('font-family', serif).attr('font-size', 13.5).attr('fill', ink);
  t.append('tspan').attr('font-style', 'italic').attr('font-size', 9).attr('dy', -5).text('W');
  t.append('tspan').attr('font-style', 'italic').attr('dy', 5).attr('dx', 1).text(s.sym);
  t.append('tspan').attr('font-style', 'italic').attr('font-size', 9).attr('dy', 3).text(s.sub);
  if (s.sq) {
    t.append('tspan').attr('dy', -3).attr('dx', 6).text('(');
    t.append('tspan').attr('font-style', 'italic').text(s.unit);
    t.append('tspan').attr('font-style', 'italic').attr('font-size', 9).attr('dy', -5).text('2');
    t.append('tspan').attr('dy', 5).text(')');
  } else {
    t.append('tspan').attr('dy', -3).attr('dx', 6).text('(' + s.unit + ')');
  }
}

function drawInset(layer, x0, top, xMain, yMain, ins) {
  const bx = x0 + ins.box[0], by = top + ins.box[1], bw = ins.box[2], bh = ins.box[3];
  const xi = d3.scaleLinear().domain(ins.xDom).range([bx, bx + bw]);
  const yi = d3.scaleLinear().domain(ins.yDom).range([by + bh, by]);
  const m = ins.marker;
  const mx0 = xMain(m[0]), mx1 = xMain(m[1]), myTop = yMain(m[3]), myBot = yMain(m[2]);
  const mc = { tl: [mx0, myTop], tr: [mx1, myTop], bl: [mx0, myBot], br: [mx1, myBot] };
  const ic = { tl: [bx, by], tr: [bx + bw, by], bl: [bx, by + bh], br: [bx + bw, by + bh] };

  layer.append('rect').attr('x', mx0).attr('y', myTop).attr('width', mx1 - mx0).attr('height', myBot - myTop)
    .attr('fill', 'none').attr('stroke', '#3a3a3a').attr('stroke-width', 0.7);
  ins.links.forEach(([a, b]) => {
    layer.append('line').attr('x1', mc[a][0]).attr('y1', mc[a][1]).attr('x2', ic[b][0]).attr('y2', ic[b][1])
      .attr('stroke', '#3a3a3a').attr('stroke-width', 0.7);
  });

  const g = layer.append('g');
  g.append('rect').attr('x', bx).attr('y', by).attr('width', bw).attr('height', bh).attr('fill', '#fff');
  const grid = g.append('g').attr('stroke', gridColor).attr('stroke-width', 0.6);
  ins.xTicks.forEach(t => grid.append('line').attr('x1', xi(t)).attr('x2', xi(t)).attr('y1', by).attr('y2', by + bh));
  ins.yTicks.forEach(v => grid.append('line').attr('y1', yi(v)).attr('y2', yi(v)).attr('x1', bx).attr('x2', bx + bw));

  const id = 'clip' + (clipId++);
  g.append('clipPath').attr('id', id).append('rect').attr('x', bx).attr('y', by).attr('width', bw).attr('height', bh);
  const plot = g.append('g').attr('clip-path', `url(#${id})`);
  if (ins.acc) plot.append('path').datum(ins.acc).attr('d', rawLine(xi, yi)).attr('fill', 'none').attr('stroke', colors.acc).attr('stroke-width', 0.8);
  plot.append('path').datum(ins.gt).attr('d', smoothLine(xi, yi)).attr('fill', 'none').attr('stroke', colors.gt).attr('stroke-width', 0.9);
  plot.append('path').datum(ins.fi).attr('d', smoothLine(xi, yi)).attr('fill', 'none').attr('stroke', colors.fi).attr('stroke-width', 0.9);

  const ax = g.append('g').attr('transform', `translate(${bx},0)`)
    .call(d3.axisLeft(yi).tickValues(ins.yTicks).tickFormat(fmt).tickSizeInner(-3).tickSizeOuter(0).tickPadding(2.5));
  styleAxis(ax, ins.font);
  const bxAxis = g.append('g').attr('transform', `translate(0,${by + bh})`)
    .call(d3.axisBottom(xi).tickValues(ins.xTicks).tickFormat(fmt).tickSizeInner(-3).tickSizeOuter(0).tickPadding(2));
  styleAxis(bxAxis, 10);
  g.append('rect').attr('x', bx).attr('y', by).attr('width', bw).attr('height', bh)
    .attr('fill', 'none').attr('stroke', '#3a3a3a').attr('stroke-width', 0.7);
}

columns.forEach((col, ci) => {
  const x0 = col.x0;
  const x = d3.scaleLinear().domain([0, 11]).range([x0, x0 + plotW]);
  const colG = svg.append('g');
  const insetLayer = svg.append('g');

  // group titles and the time label
  groupTitles.forEach((title, gi) => {
    colG.append('text').attr('x', x0 + plotW / 2).attr('y', groupTop[gi] - 5.5)
      .attr('text-anchor', 'middle').attr('font-family', serif).attr('font-size', 16.5).attr('fill', '#111')
      .text(title);
  });
  colG.append('text').attr('x', x0 + plotW / 2).attr('y', 967.5).attr('text-anchor', 'middle')
    .attr('font-family', serif).attr('font-size', 14.5).attr('fill', ink).text('Time (s)');

  specs.forEach(s => {
    const top = groupTop[s.g] + s.r * panelH;
    const bottom = top + panelH;
    const y = d3.scaleLinear().domain(s.dom).range([bottom, top]);
    const g = colG.append('g');

    g.append('rect').attr('x', x0).attr('y', top).attr('width', plotW).attr('height', panelH).attr('fill', '#fff');

    const grid = g.append('g').attr('stroke', gridColor).attr('stroke-width', 0.6);
    timeTicks.slice(1, -1).forEach(t => grid.append('line').attr('x1', x(t)).attr('x2', x(t)).attr('y1', top).attr('y2', bottom));
    s.ticks.forEach(v => grid.append('line').attr('y1', y(v)).attr('y2', y(v)).attr('x1', x0).attr('x2', x0 + plotW));

    const id = 'clip' + (clipId++);
    g.append('clipPath').attr('id', id).append('rect').attr('x', x0).attr('y', top).attr('width', plotW).attr('height', panelH);
    const plot = g.append('g').attr('clip-path', `url(#${id})`);

    const accRaw = col.acc[s.key];
    if (accRaw) {
      plot.append('path').datum(evenSamples(accRaw)).attr('d', rawLine(x, y))
        .attr('fill', 'none').attr('stroke', colors.acc).attr('stroke-width', s.accW).attr('stroke-linejoin', 'round');
    }
    const [gt, fi] = col.series[s.key];
    plot.append('path').datum(gt).attr('d', smoothLine(x, y)).attr('fill', 'none').attr('stroke', colors.gt).attr('stroke-width', 0.95);
    plot.append('path').datum(fi).attr('d', smoothLine(x, y)).attr('fill', 'none').attr('stroke', colors.fi).attr('stroke-width', 0.95);

    // axes with inward ticks on all four sides
    const left = g.append('g').attr('transform', `translate(${x0},0)`)
      .call(d3.axisLeft(y).tickValues(s.ticks).tickFormat(fmt).tickSizeInner(-5).tickSizeOuter(0).tickPadding(4.5));
    styleAxis(left, 10.5);
    const right = g.append('g').attr('transform', `translate(${x0 + plotW},0)`)
      .call(d3.axisRight(y).tickValues(s.ticks).tickFormat('').tickSizeInner(-5).tickSizeOuter(0));
    styleAxis(right, 10.5);
    const topAx = g.append('g').attr('transform', `translate(0,${top})`)
      .call(d3.axisTop(x).tickValues(timeTicks).tickFormat('').tickSizeInner(-5).tickSizeOuter(0));
    styleAxis(topAx, 10.5);
    const isLast = s.key === 'az';
    const botAx = g.append('g').attr('transform', `translate(0,${bottom})`)
      .call(d3.axisBottom(x).tickValues(timeTicks).tickFormat(isLast ? fmt : '').tickSizeInner(-5).tickSizeOuter(0).tickPadding(4));
    styleAxis(botAx, 10.5);

    g.append('rect').attr('x', x0).attr('y', top).attr('width', plotW).attr('height', panelH)
      .attr('fill', 'none').attr('stroke', '#3a3a3a').attr('stroke-width', 0.75);

    yLabel(g, col.labelX, top + panelH / 2, s);

    col.insets.filter(ins => ins.panel === s.key).forEach(ins => drawInset(insetLayer, x0, top, x, y, ins));

    if (s.key === 'px') {
      const lg = insetLayer.append('g').attr('transform', `translate(${x0 + 0.8},${top})`);
      lg.append('rect').attr('x', 0).attr('y', 0).attr('width', 110.5).attr('height', 36.7)
        .attr('fill', '#fff').attr('stroke', '#3a3a3a').attr('stroke-width', 0.7);
      [colors.gt, colors.fi, colors.acc].forEach((c, i) => {
        const ly = 7.4 + i * 10.7;
        lg.append('line').attr('x1', 4.5).attr('x2', 48.5).attr('y1', ly).attr('y2', ly).attr('stroke', c).attr('stroke-width', 1);
        lg.append('text').attr('x', 52.5).attr('y', ly + 3.2).attr('font-family', serif).attr('font-size', 9.6)
          .attr('fill', ink).text(legendLabels[i]);
      });
    }
  });
});
</script>
</body>
</html>
